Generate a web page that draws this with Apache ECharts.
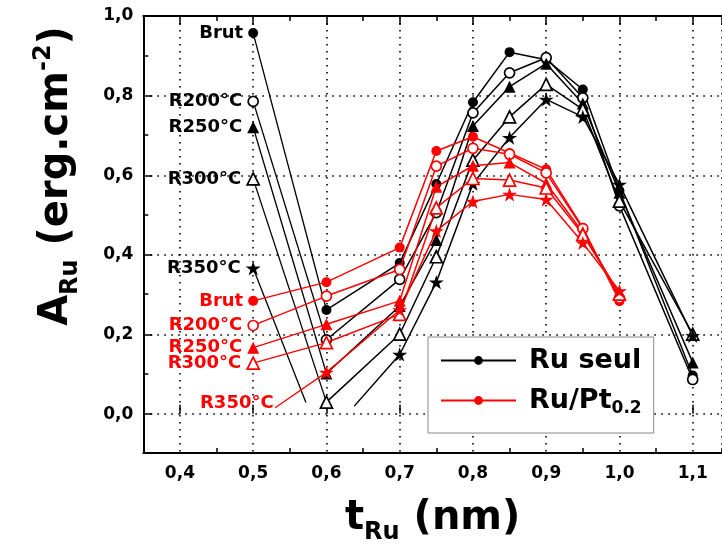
<!DOCTYPE html>
<html><head><meta charset="utf-8">
<script src="https://cdn.jsdelivr.net/npm/echarts@6/dist/echarts.min.js"></script>
<style>html,body{margin:0;padding:0;background:#fff}#c{width:722px;height:550px}</style>
</head><body><div id="c"></div>
<script>
// ---------- data ----------
const seriesNames = ['Brut', 'R200°C', 'R250°C', 'R300°C', 'R350°C'];

// Ru seul (black)
const blackX    = [0.6, 0.7, 0.75, 0.8, 0.85, 0.9, 0.95, 1.0, 1.1];
const blackBrut = [0.260, 0.378, 0.577, 0.783, 0.909, 0.890, 0.815, 0.560, 0.095];
const blackR200 = [0.185, 0.337, 0.505, 0.756, 0.857, 0.895, 0.794, 0.522, 0.085];
const blackR250 = [0.100, 0.270, 0.436, 0.723, 0.822, 0.880, 0.780, 0.555, 0.128];
const blackR300 = [0.028, 0.199, 0.394, 0.637, 0.746, 0.828, 0.765, 0.534, 0.199];
const blackR350X = [0.638, 0.7, 0.75, 0.8, 0.85, 0.9, 0.95, 1.0, 1.1];
const blackR350 = [0.018, 0.148, 0.330, 0.578, 0.694, 0.790, 0.746, 0.576, 0.195];

// Ru/Pt0.2 (red)
const redX    = [0.6, 0.7, 0.75, 0.8, 0.85, 0.9, 0.95, 1.0];
const redBrut = [0.330, 0.417, 0.660, 0.696, 0.655, 0.614, 0.467, 0.282];
const redR200 = [0.295, 0.362, 0.622, 0.667, 0.652, 0.605, 0.465, 0.290];
const redR250 = [0.224, 0.283, 0.570, 0.623, 0.631, 0.579, 0.455, 0.300];
const redR300 = [0.178, 0.249, 0.517, 0.591, 0.587, 0.567, 0.450, 0.300];
const redR350 = [0.103, 0.260, 0.459, 0.533, 0.551, 0.538, 0.429, 0.308];

// annotation labels (marker at label position, leader to curve)
const blackLabelX = [0.5, 0.5, 0.5, 0.5, 0.5];
const blackLabelY = [0.957, 0.785, 0.720, 0.590, 0.365];
const blackLeaderEndX = [null, null, null, null, 0.572];
const blackLeaderEndY = [null, null, null, null, 0.027];
const redLabelX = [0.5, 0.5, 0.5, 0.5, 0.53];
const redLabelY = [0.283, 0.221, 0.165, 0.126, 0.014];

// ---------- styles ----------
const FONT = 'DejaVu Sans';
const BLACK = '#000000', RED = '#ff0000';
const STAR = 'path://M50 0 L61.17 34.63 L97.55 34.55 L68.07 55.87 L79.39 90.45 L50 69 L20.61 90.45 L31.93 55.87 L2.45 34.55 L38.83 34.63 Z';
const markers = [
  { symbol: 'circle', filled: true, size: 10 },
  { symbol: 'circle', filled: false, size: 10 },
  { symbol: 'triangle', filled: true, size: 12 },
  { symbol: 'triangle', filled: false, size: 12 },
  { symbol: STAR, filled: true, size: 15 }
];
const fmt = v => v.toFixed(1).replace('.', ',');

function itemStyle(m, col) {
  return { color: m.filled ? col : '#ffffff', borderColor: col, borderWidth: m.filled ? 0 : 1.7, opacity: 1 };
}

const blackCurves = [
  { x: blackX, y: blackBrut }, { x: blackX, y: blackR200 }, { x: blackX, y: blackR250 },
  { x: blackX, y: blackR300 }, { x: blackR350X, y: blackR350, noFirstMarker: true }
];
const redCurves = [
  { x: redX, y: redBrut }, { x: redX, y: redR200 }, { x: redX, y: redR250 },
  { x: redX, y: redR300 }, { x: redX, y: redR350 }
];

const series = [];
function addGroup(curves, col, legendName, labelX, labelY, endX, endY, z, noMarkerLast) {
  curves.forEach((c, i) => {
    const m = markers[i];
    series.push({
      type: 'line', name: legendName, xAxisIndex: 0, yAxisIndex: 0,
      data: c.x.map((x, j) => (j === 0 && c.noFirstMarker) ? { value: [x, c.y[j]], symbol: 'none' } : [x, c.y[j]]),
      symbol: m.symbol, symbolSize: m.size, symbolKeepAspect: true, showAllSymbol: true,
      itemStyle: itemStyle(m, col), lineStyle: { color: col, width: 1.5 },
      z: z, animation: false, silent: true
    });
    const ex = (endX && endX[i] != null) ? endX[i] : c.x[0];
    const ey = (endY && endY[i] != null) ? endY[i] : c.y[0];
    series.push({
      type: 'line', name: 'leader', xAxisIndex: 0, yAxisIndex: 0,
      data: [[labelX[i], labelY[i]], [ex, ey]], symbol: 'none',
      lineStyle: { color: col, width: 1.3 }, z: z, animation: false, silent: true
    });
    const hide = noMarkerLast && i === curves.length - 1;
    series.push({
      type: 'scatter', name: 'label', xAxisIndex: 0, yAxisIndex: 0,
      data: [[labelX[i], labelY[i]]],
      symbol: m.symbol, symbolSize: hide ? 1 : m.size, symbolKeepAspect: true,
      itemStyle: hide ? { color: 'rgba(0,0,0,0)', opacity: 1 } : itemStyle(m, col),
      label: { show: true, position: 'left', distance: hide ? 1 : 5, offset: hide ? [0, -4] : [0, 0],
               formatter: seriesNames[i], color: col, opacity: 1, textBorderWidth: 0,
               fontFamily: FONT, fontWeight: 'bold', fontSize: 18 },
      z: z + 1, animation: false, silent: true
    });
  });
}
addGroup(blackCurves, BLACK, 'Ru seul', blackLabelX, blackLabelY, blackLeaderEndX, blackLeaderEndY, 2, false);
addGroup(redCurves, RED, 'Ru/Pt0.2', redLabelX, redLabelY, null, null, 4, true);

const axisLine = { show: true, onZero: false, lineStyle: { color: '#000', width: 2 } };
const minorTick = { show: true, inside: true, length: 5, lineStyle: { color: '#000', width: 1.5 } };
const majorTick = { show: true, inside: true, length: 9, lineStyle: { color: '#000', width: 1.5 } };
const dotted = { show: true, lineStyle: { color: '#000', width: 1.6, type: [1.6, 5.4] } };
const tickLabel = { show: true, formatter: fmt, color: '#000', fontFamily: FONT, fontWeight: 'bold', fontSize: 17 };

const option = {
  backgroundColor: '#fff',
  animation: false,
  grid: [
    { left: 143.3, top: 16, right: 0, bottom: 96.5 },   // data + frame + minor ticks
    { left: 179.9, top: 16, right: 0, bottom: 96.5 },   // x major ticks, labels, grid
    { left: 143.3, top: 16, right: 0, bottom: 135.8 }   // y major ticks, labels, grid
  ],
  xAxis: [
    { gridIndex: 0, type: 'value', min: 0.35, max: 1.14, interval: 0.1, position: 'bottom',
      axisLine, axisTick: minorTick, axisLabel: { show: false }, splitLine: { show: false },
      name: '{t|t}{s|Ru}{n| (nm)}', nameLocation: 'middle', nameGap: 38,
      nameTextStyle: { rich: {
        t: { fontFamily: FONT, fontWeight: 'bold', fontSize: 40, color: '#000', lineHeight: 56 },
        s: { fontFamily: FONT, fontWeight: 'bold', fontSize: 24, color: '#000', lineHeight: 28, padding: [28, 0, 0, 0] },
        n: { fontFamily: FONT, fontWeight: 'bold', fontSize: 40, color: '#000', lineHeight: 56 }
      } } },
    { gridIndex: 0, type: 'value', min: 0.35, max: 1.14, interval: 0.1, position: 'top',
      axisLine, axisTick: minorTick, axisLabel: { show: false }, splitLine: { show: false } },
    { gridIndex: 1, type: 'value', min: 0.4, max: 1.14, interval: 0.1, position: 'bottom',
      axisLine: { show: false }, axisTick: majorTick,
      axisLabel: Object.assign({ margin: 12, showMaxLabel: false }, tickLabel), splitLine: dotted },
    { gridIndex: 1, type: 'value', min: 0.4, max: 1.14, interval: 0.1, position: 'top',
      axisLine: { show: false }, axisTick: majorTick, axisLabel: { show: false }, splitLine: { show: false } },
    { gridIndex: 2, type: 'value', min: 0.35, max: 1.14, show: false }
  ],
  yAxis: [
    { gridIndex: 0, type: 'value', min: -0.1, max: 1.0, interval: 0.2, position: 'left',
      axisLine, axisTick: minorTick, axisLabel: { show: false }, splitLine: { show: false } },
    { gridIndex: 1, type: 'value', min: -0.1, max: 1.0, show: false },
    { gridIndex: 2, type: 'value', min: 0, max: 1.0, interval: 0.2, position: 'left',
      axisLine: { show: false }, axisTick: majorTick,
      axisLabel: Object.assign({ margin: 10 }, tickLabel), splitLine: dotted }
  ],
  legend: {
    data: ['Ru seul', 'Ru/Pt0.2'], orient: 'vertical', left: 428, top: 337,
    padding: [10, 12, 16, 12], itemGap: 10, itemWidth: 75, itemHeight: 11,
    backgroundColor: '#fff', borderColor: '#888', borderWidth: 1,
    formatter: n => n === 'Ru seul' ? '{m|Ru seul}' : '{m|Ru/Pt}{s|0.2}',
    textStyle: { rich: {
      m: { fontFamily: FONT, fontWeight: 'bold', fontSize: 27, color: '#000', lineHeight: 30, padding: [0, 0, 0, 8] },
      s: { fontFamily: FONT, fontWeight: 'bold', fontSize: 17, color: '#000', lineHeight: 20, padding: [16, 0, 0, 0] }
    } }
  },
  graphic: [{
    type: 'text', x: 57, y: 176, rotation: Math.PI / 2,
    style: {
      text: '{a|A}{s|Ru}{a| (erg.cm}{p|-2}{a|)}', align: 'center', verticalAlign: 'middle',
      rich: {
        a: { fontFamily: FONT, fontWeight: 'bold', fontSize: 40, fill: '#000', lineHeight: 56 },
        s: { fontFamily: FONT, fontWeight: 'bold', fontSize: 24, fill: '#000', lineHeight: 28, padding: [28, 0, 0, 0] },
        p: { fontFamily: FONT, fontWeight: 'bold', fontSize: 24, fill: '#000', lineHeight: 28, padding: [0, 0, 26, 0] }
      }
    }
  }],
  series
};
const chart = echarts.init(document.getElementById('c'), null, { renderer: 'canvas' });
chart.setOption(option);
</script></body></html>
